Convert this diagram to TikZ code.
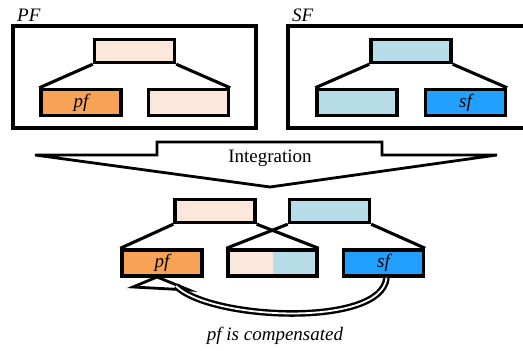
\documentclass[tikz,border=0pt]{standalone}
\usepackage{fontspec}
\setmainfont{Liberation Serif}
\usetikzlibrary{positioning,calc}
\definecolor{peach}{HTML}{FBE8DA}
\definecolor{orng}{HTML}{F7A254}
\definecolor{lblue}{HTML}{B7DEE8}
\definecolor{dblue}{HTML}{22A0FF}
\tikzset{
  blk/.style={draw, line width=3.4pt, minimum width=80pt, minimum height=23pt, inner sep=0pt},
  kid/.style={blk, minimum height=26pt},
  lnk/.style={line width=3.1pt},
  frm/.style={line width=3.3pt}
}
\newcommand{\bnode}[4]{\node [#1] (#2) at (#3) {\itshape #4}}

\begin{document}
\begin{tikzpicture}[x=1pt,y=-1pt,font=\fontsize{19}{22}\selectfont]
\useasboundingbox (0,0) rectangle (523,351);

% frames
\draw[frm] (13,26) rectangle (256,128);
\draw[frm] (523,26) -- (288,26) -- (288,128) -- (523,128);
\node [anchor=south west, inner sep=0pt] (PFL) at (17,22) {\itshape PF};
\node [anchor=south west, inner sep=0pt] (SFL) at (292,22) {\itshape SF};

% PF tree
\bnode{blk, fill=peach}{PT}{134.5,51}{};
\bnode{kid, fill=orng}{PA}{81,102.5}{pf};
\bnode{kid, fill=peach}{PB}{188.5,102.5}{};
\draw[lnk] (PT.south west) -- (PA.north west);
\draw[lnk] (PT.south east) -- (PB.north east);

% SF tree
\bnode{blk, fill=lblue}{ST}{411,51}{};
\bnode{kid, fill=lblue}{SA}{357,102.5}{};
\bnode{kid, fill=dblue}{SB}{465.5,102.5}{sf};
\draw[lnk] (ST.south west) -- (SA.north west);
\draw[lnk] (ST.south east) -- (SB.north east);

% integration arrow
\draw[line width=2.8pt, line join=miter, fill=white]
  (35,155) -- (157,155) -- (157,142) -- (382,142) -- (382,155) -- (497,155) -- (270,187) -- cycle;
\node (INT) at (270,158) {Integration};

% merged tree
\bnode{blk, fill=peach}{MT}{215,211}{};
\bnode{blk, fill=lblue}{NT}{329.5,211}{};
\bnode{kid, fill=orng}{MA}{162,263}{pf};
\bnode{kid, minimum width=89pt, fill=peach,
  path picture={\fill[lblue] (path picture bounding box.south) rectangle (path picture bounding box.north east);}}{MB}{272.5,263}{};
\bnode{kid, fill=dblue}{MC}{383.5,263}{sf};
\draw[lnk] (MT.south west) -- (MA.north west);
\draw[lnk] (MT.south east) -- (MB.north east);
\draw[lnk] (NT.south west) -- (MB.north west);
\draw[lnk] (NT.south east) -- (MC.north east);

% compensation (hollow arrow)
\coordinate (HT) at (133,287);
\coordinate (HU) at (157,277);
\coordinate (HL) at (189,290);
\coordinate (HB) at (176,286);
\draw[line width=2.8pt, line join=miter, fill=white] (HT) -- (HU) -- (HL) -- cycle;
\draw[line width=2.4pt, double distance=1.8pt]
  ([xshift=3pt]MC.south) .. controls (382,328) and (210,320) .. (HB);
\node (CMP) at (275,336) {\itshape pf is compensated};

\end{tikzpicture}
\end{document}
